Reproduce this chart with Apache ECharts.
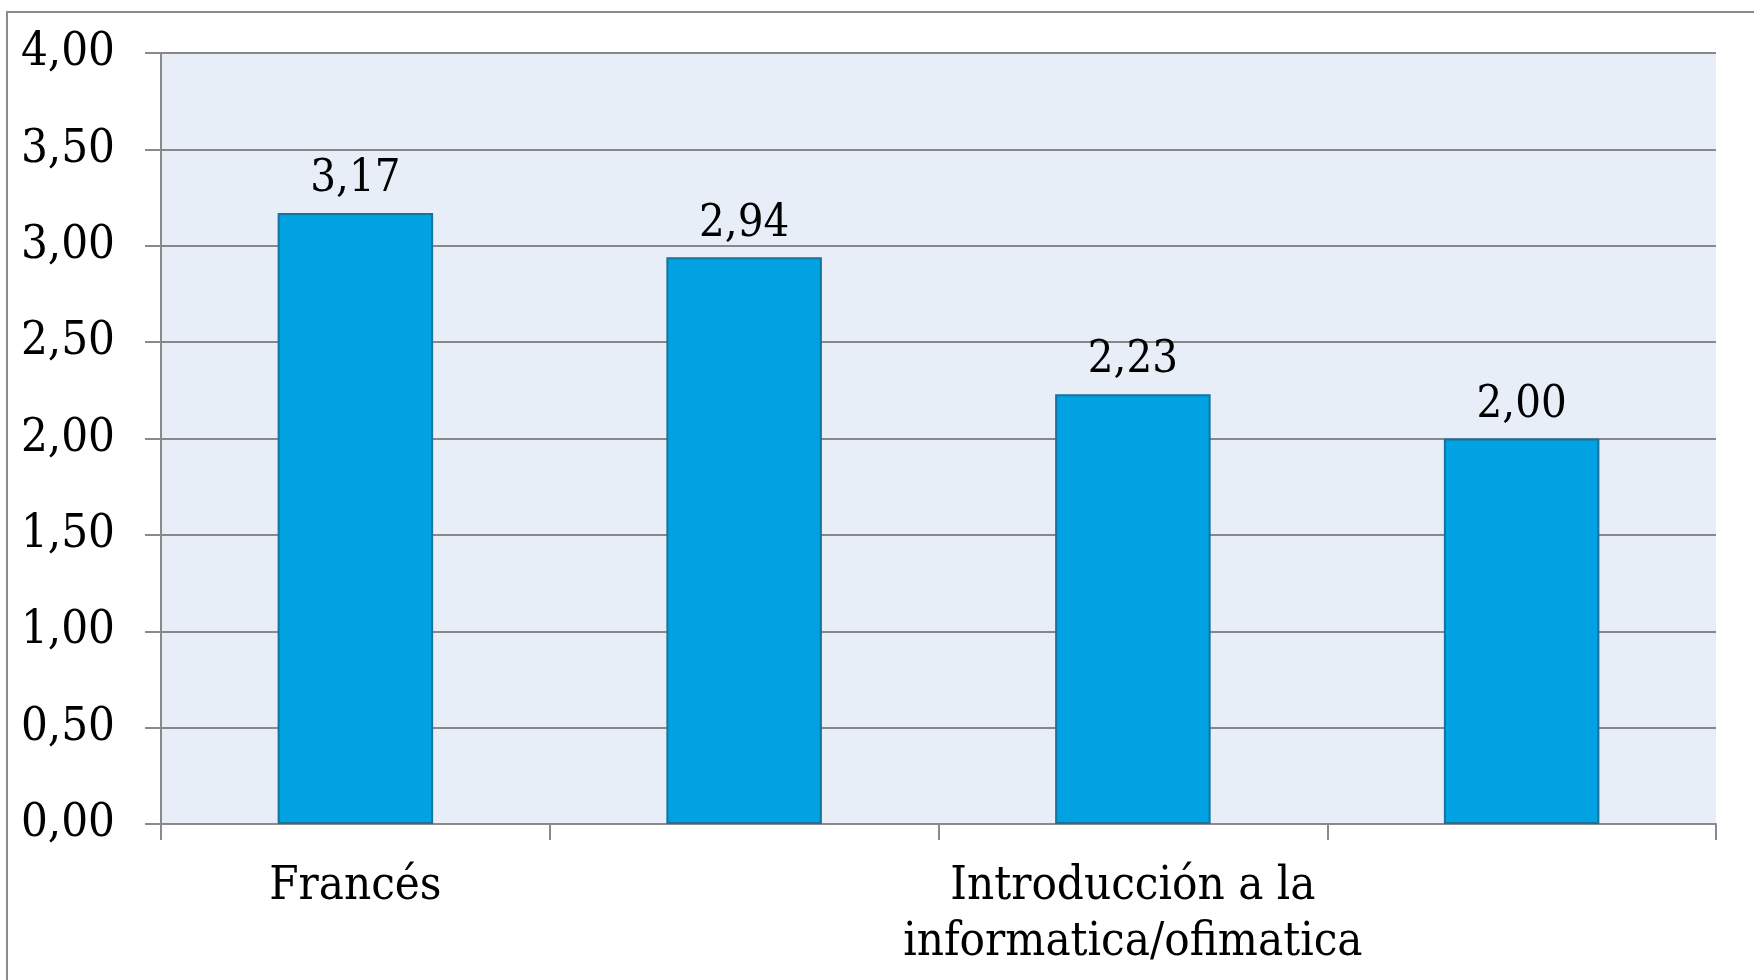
<!DOCTYPE html>
<html>
<head>
<meta charset="utf-8">
<script src="https://cdn.jsdelivr.net/npm/echarts@6/dist/echarts.min.js"></script>
<style>html,body{margin:0;padding:0;background:#fff}#c{width:1754px;height:980px}</style>
</head>
<body>
<div id="c"></div>
<script>
const categories = ["Francés", "Inglés", "Introducción a la\ninformatica/ofimatica", "Contabilidad"];
const values = [3.17, 2.94, 2.23, 2.00];
const yTicks = [0, 0.5, 1, 1.5, 2, 2.5, 3, 3.5, 4];

const fmt = v => Number(v).toFixed(2).replace('.', ',');
const font = '"DejaVu Serif Condensed", "DejaVu Serif", "Liberation Serif", serif';
const chart = echarts.init(document.getElementById('c'));
chart.setOption({
  animation: false,
  backgroundColor: '#fff',
  graphic: [{
    type: 'rect', silent: true, z: 100,
    shape: { x: 7, y: 12, width: 2000, height: 2000 },
    style: { fill: 'none', stroke: '#8c8c8c', lineWidth: 2 }
  }],
  grid: { left: 161, right: 38, top: 53, bottom: 156, show: true, backgroundColor: '#E7EEF8', borderWidth: 0 },
  xAxis: {
    type: 'category', data: categories,
    axisLine: { lineStyle: { color: '#8a8a8a', width: 2 } },
    axisTick: { show: true, interval: 0, length: 16, lineStyle: { color: '#8a8a8a', width: 2 } },
    axisLabel: { interval: 1, margin: 35, color: '#000', fontFamily: font, fontSize: 47, lineHeight: 56 }
  },
  yAxis: {
    type: 'value', min: yTicks[0], max: yTicks[yTicks.length - 1], interval: 0.5,
    axisLine: { show: true, lineStyle: { color: '#8a8a8a', width: 2 } },
    axisTick: { show: true, length: 16, lineStyle: { color: '#8a8a8a', width: 2 } },
    splitLine: { lineStyle: { color: '#888888', width: 2 } },
    axisLabel: { margin: 46, color: '#000', fontFamily: font, fontSize: 47, formatter: fmt }
  },
  series: [{
    type: 'bar', data: values, barCategoryGap: '60%',
    itemStyle: { color: '#00A2E2', borderColor: '#16729F', borderWidth: 2 },
    label: { show: true, position: 'top', distance: 11, color: '#000', fontFamily: font, fontSize: 45, formatter: p => fmt(p.value) }
  }]
});
</script>
</body>
</html>
